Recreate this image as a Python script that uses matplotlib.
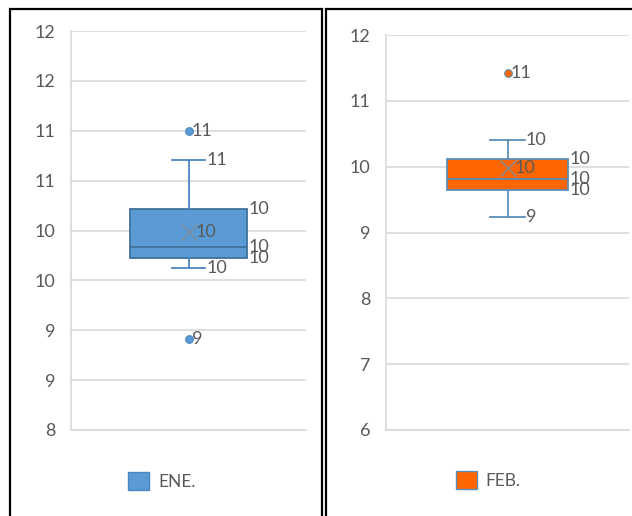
import numpy as np
import matplotlib.pyplot as plt
from matplotlib.patches import Patch
from matplotlib.lines import Line2D
from matplotlib.ticker import FuncFormatter

plt.rcParams['font.family'] = ['Lato', 'DejaVu Sans']

W, H = 632, 516

# box summary per month: whisker low, Q1, median, Q3, whisker high
ene_box = [9.62, 9.72, 9.83, 10.22, 10.71]
ene_mean = 9.98
ene_fliers = [11.0, 8.91]

feb_box = [9.24, 9.65, 9.81, 10.12, 10.41]
feb_mean = 9.98
feb_fliers = [11.43]

TXT = '#595959'
GRID = '#D9D9D9'


def px(x, y):
    return x / W, 1 - y / H


def rounded(v, _=None):
    # Excel style "0" number format (half away from zero)
    return f"{int(np.floor(v + 0.5))}"


def draw_panel(ax, box, mean, fliers, face, edge, whisk, name, ylim, ystep, legend_xy):
    stats = [dict(whislo=box[0], q1=box[1], med=box[2], q3=box[3], whishi=box[4],
                  mean=mean, fliers=fliers, label=name)]
    width, capw = 1.0, 0.28
    ax.bxp(stats, positions=[1], widths=width, capwidths=capw, patch_artist=True,
           showmeans=True,
           boxprops=dict(facecolor=face, edgecolor=edge, linewidth=1.3),
           medianprops=dict(color=edge, linewidth=1.3),
           whiskerprops=dict(color=whisk, linewidth=1.3),
           capprops=dict(color=whisk, linewidth=1.3),
           flierprops=dict(marker='o', markersize=5.5, markerfacecolor=face,
                           markeredgecolor=whisk, markeredgewidth=0.8),
           meanprops=dict(marker='x', markersize=11, markeredgecolor='#7F8C99',
                          markeredgewidth=1.0))
    ax.set_xlim(0, 2)
    ax.set_ylim(*ylim)
    ax.set_yticks(np.arange(ylim[0], ylim[1] + ystep / 2, ystep))
    ax.yaxis.set_major_formatter(FuncFormatter(rounded))
    ax.set_xticks([])
    ax.tick_params(axis='y', length=0, pad=11, labelsize=13, labelcolor=TXT)
    ax.set_axisbelow(True)
    ax.yaxis.grid(True, color=GRID, linewidth=1.2)
    for s in ('top', 'right'):
        ax.spines[s].set_visible(False)
    for s in ('left', 'bottom'):
        ax.spines[s].set_color(GRID)
        ax.spines[s].set_linewidth(1.2)

    # data labels to the right of each point
    lab = dict(textcoords='offset points', va='center', ha='left',
               fontsize=13, color=TXT)
    box_x = 1 + width / 2
    cap_x = 1 + capw / 2
    for v in (box[1], box[2], box[3]):
        ax.annotate(rounded(v), (box_x, v), xytext=(1, 0), **lab)
    for v in (box[0], box[4]):
        ax.annotate(rounded(v), (cap_x, v), xytext=(1, 0), **lab)
    ax.annotate(rounded(mean), (1, mean), xytext=(5, 0), **lab)
    for v in fliers:
        ax.annotate(rounded(v), (1, v), xytext=(2.5, 0), **lab)

    ax.legend(handles=[Patch(facecolor=face, edgecolor=whisk, label=name)],
              loc='center', bbox_to_anchor=px(*legend_xy),
              bbox_transform=ax.figure.transFigure, frameon=False,
              handlelength=1.2, handleheight=1.2, handletextpad=0.5,
              fontsize=12.5, labelcolor=TXT)


fig = plt.figure(figsize=(W / 100, H / 100), dpi=100)

ax1 = fig.add_axes([71 / W, 86 / H, 235 / W, 399 / H])
draw_panel(ax1, ene_box, ene_mean, ene_fliers, '#5B9BD5', '#41719C', '#4A86C0',
           'ENE.', (8, 12), 0.5, (162, 481))

ax2 = fig.add_axes([386 / W, 86 / H, 243 / W, 395 / H])
draw_panel(ax2, feb_box, feb_mean, feb_fliers, '#FF6600', '#5B8DB8', '#5B8DB8',
           'FEB.', (6, 12), 1, (488, 480))

# black frames around the two chart objects
for pts in ([(10.5, 520), (10.5, 9), (321.5, 9), (321.5, 520)],
            [(326, 520), (326, 9), (640, 9)]):
    xs, ys = zip(*[px(x, y) for x, y in pts])
    fig.add_artist(Line2D(xs, ys, transform=fig.transFigure, color='black',
                          linewidth=1.6, solid_joinstyle='miter'))

fig.savefig('out.png', dpi=100)
